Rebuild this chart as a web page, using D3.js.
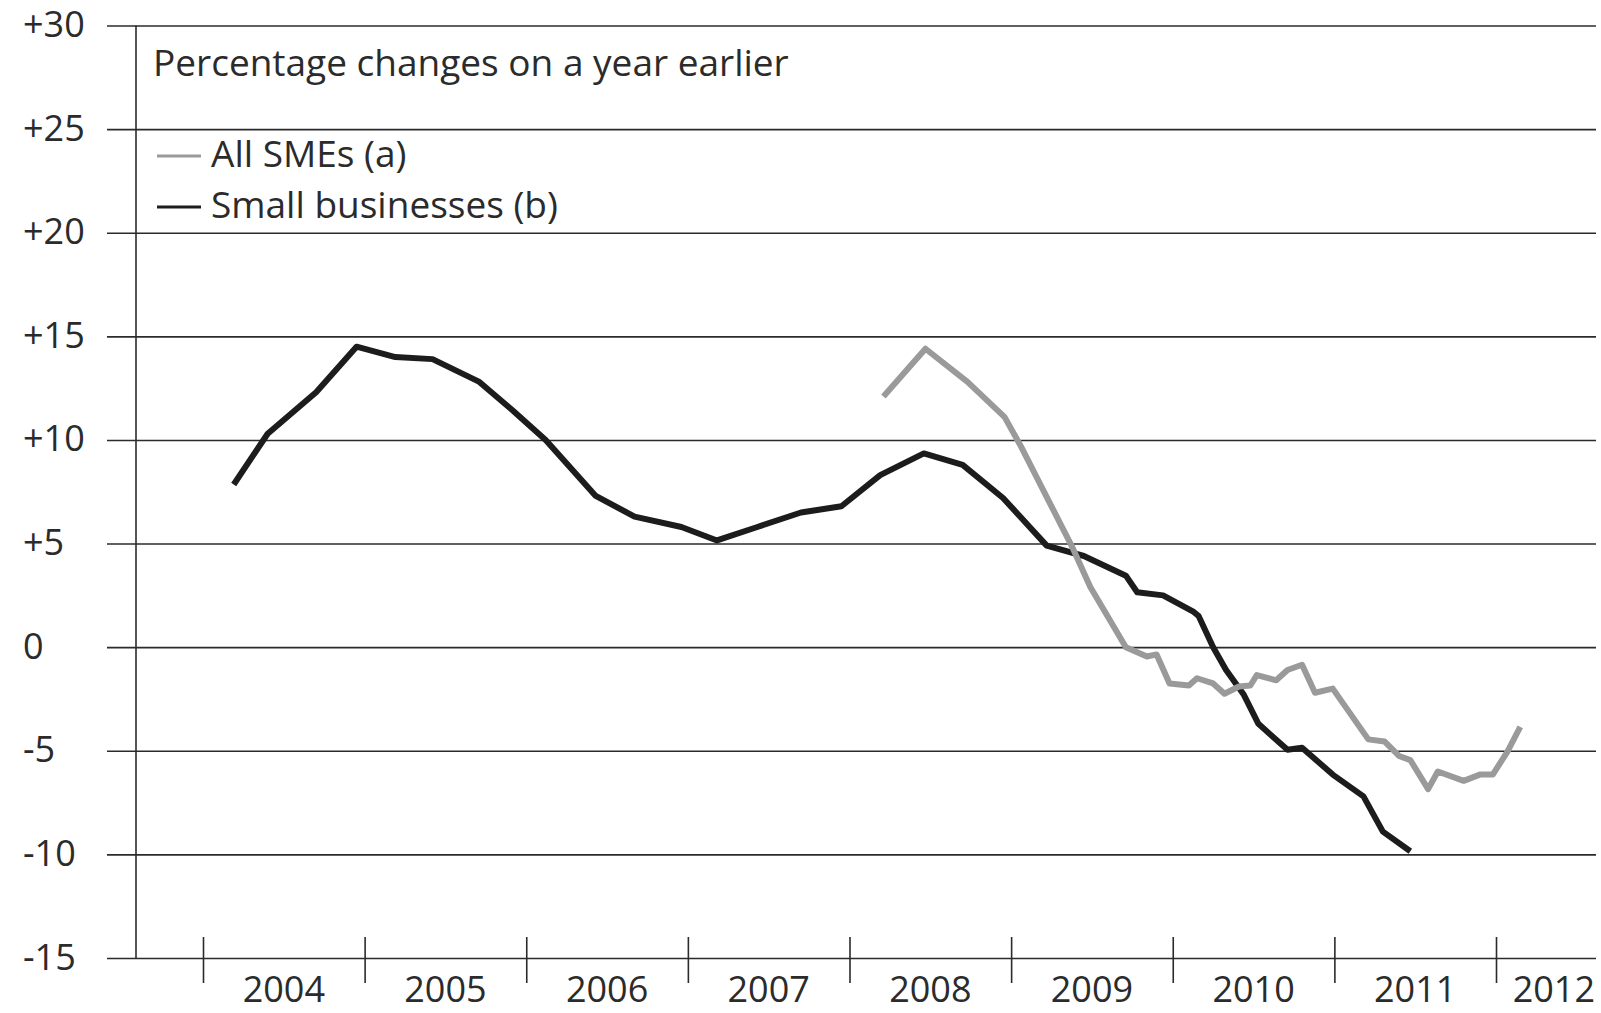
<!DOCTYPE html>
<html>
<head>
<meta charset="utf-8">
<script src="https://cdn.jsdelivr.net/npm/d3@7"></script>
<style>
  body { margin: 0; background: #ffffff; }
  svg { display: block; }
  text { font-family: "Open Sans", "Noto Sans", "Liberation Sans", sans-serif; fill: #2b2b2b; }
</style>
</head>
<body>
<svg id="chart" width="1601" height="1013"></svg>
<script>
// ---------------- data ----------------
const chartTitle = "Percentage changes on a year earlier";
const seriesNames = ["All SMEs (a)", "Small businesses (b)"];

// Small businesses (b): decimal-year dates and % change on a year earlier
const sbDates = [2004.19, 2004.40, 2004.70, 2004.95, 2005.19, 2005.42, 2005.71, 2005.92,
                 2006.12, 2006.43, 2006.67, 2006.96, 2007.18, 2007.43, 2007.70, 2007.95,
                 2008.19, 2008.46, 2008.70, 2008.95, 2009.22, 2009.45, 2009.71, 2009.78,
                 2009.94, 2010.13, 2010.16, 2010.25, 2010.33, 2010.44, 2010.53, 2010.71,
                 2010.80, 2010.99, 2011.18, 2011.30, 2011.47];
const sbValues = [7.85, 10.3, 12.3, 14.5, 14.0, 13.9, 12.8, 11.4,
                  10.0, 7.3, 6.3, 5.8, 5.15, 5.8, 6.5, 6.8,
                  8.3, 9.35, 8.8, 7.2, 4.9, 4.4, 3.45, 2.65,
                  2.5, 1.7, 1.5, 0.0, -1.1, -2.3, -3.7, -4.95,
                  -4.85, -6.15, -7.2, -8.9, -9.85];

// All SMEs (a)
const smeDates = [2008.21, 2008.47, 2008.73, 2008.96, 2009.06, 2009.38, 2009.49, 2009.71,
                  2009.84, 2009.90, 2009.98, 2010.10, 2010.15, 2010.25, 2010.32, 2010.41,
                  2010.48, 2010.52, 2010.64, 2010.71, 2010.80, 2010.88, 2010.99, 2011.21,
                  2011.31, 2011.40, 2011.47, 2011.58, 2011.64, 2011.80, 2011.90, 2011.98,
                  2012.07, 2012.15];
const smeValues = [12.1, 14.4, 12.8, 11.1, 9.7, 4.8, 2.9, 0.0,
                   -0.45, -0.35, -1.75, -1.85, -1.5, -1.75, -2.25, -1.9,
                   -1.85, -1.35, -1.6, -1.1, -0.85, -2.2, -2.0, -4.45,
                   -4.55, -5.25, -5.45, -6.85, -6.0, -6.45, -6.15, -6.15,
                   -5.05, -3.85];

const yTicks = [30, 25, 20, 15, 10, 5, 0, -5, -10, -15];
const yTickLabels = ["+30", "+25", "+20", "+15", "+10", "+5", "0", "-5", "-10", "-15"];
const yearTicks = [2004, 2005, 2006, 2007, 2008, 2009, 2010, 2011, 2012];
const yearLabels = ["2004", "2005", "2006", "2007", "2008", "2009", "2010", "2011", "2012"];

// ---------------- layout ----------------
const W = 1601, H = 1013;
const gridLeft = 107, gridRight = 1596, axisX = 136;
const yTop = 25.5, yBottom = 958;
const lineColor = "#2b2b2b";
const colSME = "#9a9a9a", colSB = "#1c1c1c";

const svg = d3.select("#chart");

const x = d3.scaleLinear().domain([2004, 2012]).range([203, 1496]);
const y = d3.scaleLinear().domain([-15, 30]).range([yBottom, yTop]);

// horizontal gridlines + y labels
const gy = svg.append("g")
  .attr("transform", `translate(${gridLeft},0)`)
  .call(d3.axisRight(y)
    .tickValues(yTicks)
    .tickSize(gridRight - gridLeft)
    .tickFormat((d, i) => yTickLabels[i]));
gy.select(".domain").remove();
gy.selectAll(".tick line").attr("stroke", lineColor).attr("stroke-width", 1.6);
gy.selectAll(".tick text")
  .attr("x", 23 - gridLeft)
  .attr("dy", null)
  .attr("y", 11)
  .attr("text-anchor", "start")
  .attr("font-size", 36)
  .attr("font-family", null)
  .attr("fill", "#2b2b2b");

// vertical y axis line
svg.append("line")
  .attr("x1", axisX).attr("x2", axisX)
  .attr("y1", y(30)).attr("y2", y(-15))
  .attr("stroke", lineColor).attr("stroke-width", 1.6);

// x axis ticks at year boundaries
const gx = svg.append("g")
  .attr("transform", `translate(0,${y(-15)})`)
  .call(d3.axisBottom(x).tickValues(yearTicks).tickSize(25).tickFormat(""));
gx.select(".domain").remove();
gx.selectAll(".tick line").attr("stroke", lineColor).attr("stroke-width", 1.6).attr("y1", -21);

// year labels centred in each year
const yl = svg.append("g").selectAll("text")
  .data(yearTicks)
  .join("text")
  .attr("font-size", 36)
  .attr("text-anchor", "middle")
  .attr("y", 1002)
  .text((d, i) => yearLabels[i]);
yl.attr("x", function(d) {
  const half = this.getComputedTextLength() / 2;
  return Math.min(x(d + 0.5), W - 6 - half);
});

// lines
const line = d3.line().x(d => x(d[0])).y(d => y(d[1]));
const sbData = sbDates.map((d, i) => [d, sbValues[i]]);
const smeData = smeDates.map((d, i) => [d, smeValues[i]]);

svg.append("path").datum(sbData)
  .attr("d", line).attr("fill", "none")
  .attr("stroke", colSB).attr("stroke-width", 6)
  .attr("stroke-linejoin", "round");
svg.append("path").datum(smeData)
  .attr("d", line).attr("fill", "none")
  .attr("stroke", colSME).attr("stroke-width", 6)
  .attr("stroke-linejoin", "round");

// title
svg.append("text")
  .attr("x", 153).attr("y", 76)
  .attr("font-size", 37)
  .text(chartTitle);

// legend
const legend = svg.append("g");
const legendColors = [colSME, colSB];
const legendBase = [167, 218];
seriesNames.forEach((name, i) => {
  legend.append("line")
    .attr("x1", 157).attr("x2", 201)
    .attr("y1", legendBase[i] - 11).attr("y2", legendBase[i] - 11)
    .attr("stroke", legendColors[i]).attr("stroke-width", 3.2);
  legend.append("text")
    .attr("x", 211).attr("y", legendBase[i])
    .attr("font-size", 37)
    .text(name);
});
</script>
</body>
</html>
